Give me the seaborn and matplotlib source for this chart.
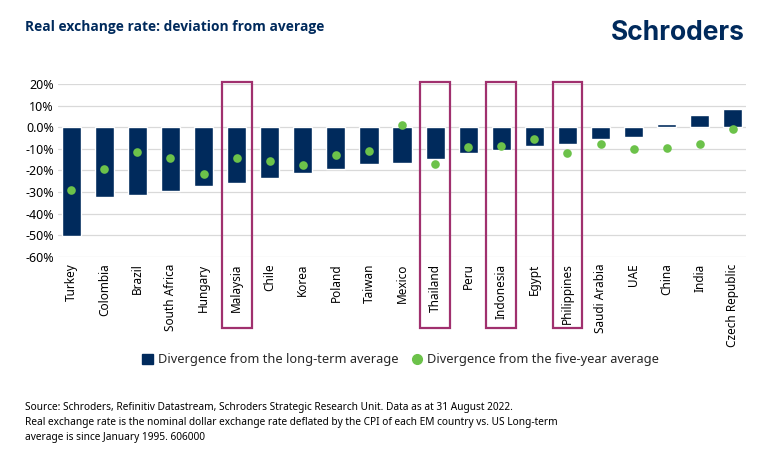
import matplotlib
matplotlib.use("Agg")
import matplotlib.pyplot as plt
import seaborn as sns
import pandas as pd
from matplotlib.patches import Rectangle, Patch
from matplotlib.lines import Line2D
from matplotlib.ticker import FuncFormatter

countries = ["Turkey", "Colombia", "Brazil", "South Africa", "Hungary", "Malaysia",
             "Chile", "Korea", "Poland", "Taiwan", "Mexico", "Thailand", "Peru",
             "Indonesia", "Egypt", "Philippines", "Saudi Arabia", "UAE", "China",
             "India", "Czech Republic"]
long_term = [-50.5, -32.4, -31.5, -29.3, -27.1, -25.6, -23.4, -21.4, -19.1, -16.9,
             -16.5, -14.7, -12.1, -10.7, -8.7, -7.6, -5.4, -4.4, 1.5, 5.9, 8.7]
five_year = [-29.2, -19.5, -11.5, -14.0, -21.6, -14.4, -15.5, -17.5, -12.6, -10.9,
             0.9, -17.1, -8.9, -8.7, -5.6, -11.8, -7.6, -9.8, -9.6, -7.6, -0.9]
highlighted = ["Malaysia", "Thailand", "Indonesia", "Philippines"]
y_ticks = [20, 10, 0, -10, -20, -30, -40, -50, -60]

NAVY = "#002a5c"
GREEN = "#6cc24a"
BOX = "#a0306e"
GRID = "#d9d9d9"

df = pd.DataFrame({"country": countries, "long": long_term, "five": five_year})

sns.set_style("white")
plt.rcParams["font.family"] = ["Noto Sans", "DejaVu Sans"]

fig = plt.figure(figsize=(7.7, 4.5), dpi=100)
ax = fig.add_axes([0.0753, 0.4296, 0.969 - 0.0753, 0.8127 - 0.4296])

sns.barplot(data=df, x="country", y="long", color=NAVY, width=0.58,
            saturation=1, ax=ax, zorder=2)
sns.stripplot(data=df, x="country", y="five", color=GREEN, jitter=False,
              size=6.2, linewidth=0, ax=ax, zorder=3)

ax.set_ylim(-60, 20)
ax.set_xlim(-0.4, len(countries) - 0.6)
ax.set_yticks(y_ticks)
ax.yaxis.set_major_formatter(FuncFormatter(lambda v, p: "0.0%" if v == 0 else f"{int(v)}%"))
ax.grid(axis="y", color=GRID, linewidth=0.9, zorder=0)
ax.set_axisbelow(True)
for s in ax.spines.values():
    s.set_visible(False)
ax.tick_params(axis="both", length=0, colors="black")
ax.tick_params(axis="y", labelsize=9, pad=3)
ax.tick_params(axis="x", labelsize=8.5, pad=5)
plt.setp(ax.get_xticklabels(), rotation=90, va="top", ha="center")
ax.set_xlabel("")
ax.set_ylabel("")

# highlight boxes
trans = matplotlib.transforms.blended_transform_factory(ax.transData, ax.transAxes)
for name in highlighted:
    i = countries.index(name)
    r = Rectangle((i - 0.45, -0.414), 0.9, 1.429, transform=trans, fill=False,
                  edgecolor=BOX, linewidth=1.6, clip_on=False, zorder=5)
    ax.add_patch(r)

# legend
handles = [Patch(facecolor=NAVY, edgecolor=NAVY, label="Divergence from the long-term average"),
           Line2D([0], [0], marker="o", linestyle="none", markerfacecolor=GREEN,
                  markeredgecolor=GREEN, markersize=7, label="Divergence from the five-year average")]
fig.legend(handles=handles, loc="center", bbox_to_anchor=(0.52, 0.2), ncol=2,
           frameon=False, fontsize=9.2, handlelength=0.9, handleheight=0.9,
           handletextpad=0.35, columnspacing=1.0)

# title and logo
fig.text(25 / 770, 1 - 27 / 450, "Real exchange rate: deviation from average",
         fontsize=9.9, fontweight="bold", color=NAVY, va="center", ha="left",
         family=["Open Sans", "DejaVu Sans"])
fig.text(745 / 770, 1 - 33 / 450, "Schroders", fontsize=19, fontweight="bold",
         color=NAVY, va="center", ha="right", family=["Inter", "DejaVu Sans"])

source = ("Source: Schroders, Refinitiv Datastream, Schroders Strategic Research Unit. Data as at 31 August 2022.\n"
          "Real exchange rate is the nominal dollar exchange rate deflated by the CPI of each EM country vs. US Long-term\n"
          "average is since January 1995. 606000")
fig.text(25 / 770, 1 - 402 / 450, source, fontsize=7.3, color="black",
         va="top", ha="left", linespacing=1.5)

fig.savefig("out.png", dpi=100)
